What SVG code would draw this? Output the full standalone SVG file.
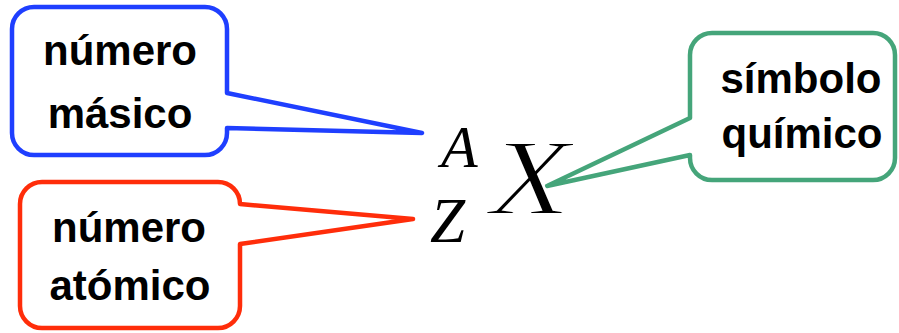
<svg xmlns="http://www.w3.org/2000/svg" width="899" height="333" viewBox="0 0 899 333">
<style>
.box{fill:#fff;stroke-width:4.5;stroke-linejoin:round}
.lbl{font-family:"Liberation Sans",Arial,sans-serif;font-weight:bold;font-size:42px;fill:#000;text-anchor:middle}
.math{font-family:"Liberation Serif","Times New Roman",serif;font-style:italic;font-weight:normal;fill:#000}
</style>
<rect width="899" height="333" fill="#fff"/>
<g id="connectors"/>
<g id="mass-number">
<path class="box" stroke="#1f3fff" d="M34 7H205A22 22 0 0 1 227 29V93L422 133L227 128V133A22 22 0 0 1 205 155H34A22 22 0 0 1 12 133V29A22 22 0 0 1 34 7Z"/>
<text class="lbl" x="120" y="65">número</text>
<text class="lbl" x="120" y="128">másico</text>
</g>
<g id="atomic-number">
<path class="box" stroke="#ff2d0a" d="M42 182H218A22 22 0 0 1 240 204L413 219L240 244V306A22 22 0 0 1 218 328H42A22 22 0 0 1 20 306V204A22 22 0 0 1 42 182Z"/>
<text class="lbl" x="129" y="242">número</text>
<text class="lbl" x="130" y="300">atómico</text>
</g>
<g id="chemical-symbol">
<path class="box" stroke="#45a57a" d="M712 33H873A22 22 0 0 1 895 55V158A22 22 0 0 1 873 180H712A22 22 0 0 1 690 158V155L547 186L690 118V55A22 22 0 0 1 712 33Z"/>
<text class="lbl" x="801" y="93">símbolo</text>
<text class="lbl" x="802" y="148">químico</text>
</g>
<g id="nuclide">
<text class="math" x="441" y="167" font-size="60">A</text>
<text class="math" x="430" y="242" font-size="63">Z</text>
<text class="math" transform="translate(490 214) scale(1.22 1)" x="0" y="0" font-size="108" stroke="#fff" stroke-width="2.2">X</text>
</g>
</svg>
